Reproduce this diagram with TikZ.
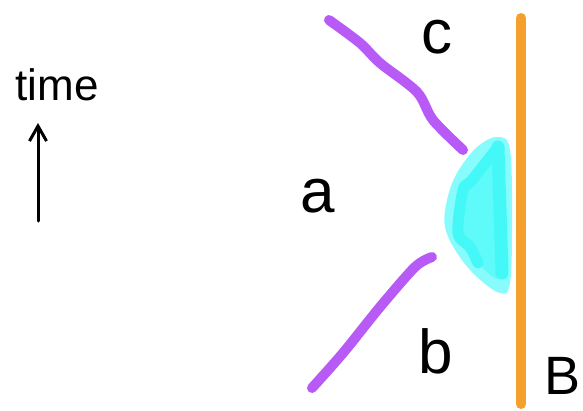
\documentclass[tikz,border=0pt]{standalone}
\usepackage{fontspec}
\setmainfont{Liberation Sans}
\usepackage{xcolor}
\definecolor{worldline}{HTML}{B85AF5}
\definecolor{wall}{HTML}{F5A02C}
\definecolor{blob}{HTML}{88FCFC}
\definecolor{blobdark}{HTML}{44F8F8}
\usepackage{tikz}
\usetikzlibrary{arrows.meta}

\begin{document}
\begin{tikzpicture}[x=1pt, y=-1pt, >={Straight Barb[length=15pt, width=17pt]},
  letter/.style={font=\fontsize{62}{62}\selectfont, inner sep=0pt},
  pen/.style={line width=10pt, line cap=round, line join=round}]

  \useasboundingbox (0,0) rectangle (583,410);

  % the wall B
  \draw[pen, wall] (521,18) -- (521,404);

  % the blob where the lines meet the wall
  \fill[blob] plot[smooth cycle, tension=0.6] coordinates
    {(498,137) (510,150) (512,220) (510,283) (500,293) (477,277)
     (457,253) (445,227) (447,200) (457,173) (477,147)};
  \fill[blobdark!60!blob] plot[smooth cycle, tension=0.5] coordinates
    {(498,147) (502,273) (478,263) (470,247) (458,233) (463,190) (472,180)};
  \draw[blobdark, line width=13pt, line cap=round, line join=round]
    plot[smooth, tension=0.5] coordinates {(498,147) (500,210) (502,273)};
  \draw[blobdark, line width=11pt, line cap=round, line join=round]
    plot[smooth, tension=0.5] coordinates
    {(498,147) (472,180) (463,190) (458,233) (470,247) (478,263)};

  % world lines
  \draw[pen, worldline] plot[smooth, tension=0.5] coordinates
    {(329,20) (360,43) (380,63) (417,92) (433,120) (463,150)};
  \draw[pen, worldline] plot[smooth, tension=0.5] coordinates
    {(312,388) (343,353) (380,307) (415,267) (432,257)};

  % labels
  \node[letter] (c) at (437,37) {c};
  \node[letter] (a) at (318,196) {a};
  \node[letter] (b) at (436,351) {b};
  \node[letter, font=\fontsize{54}{54}\selectfont] (B) at (562,376) {B};
  \node[font=\fontsize{44}{44}\selectfont, inner sep=0pt] (time) at (57,85) {time};

  % time axis
  \coordinate (tail) at (38,221);
  \coordinate (head) at (38,123);
  \draw[->, line width=3pt, line cap=round] (tail) -- (head);

\end{tikzpicture}
\end{document}
